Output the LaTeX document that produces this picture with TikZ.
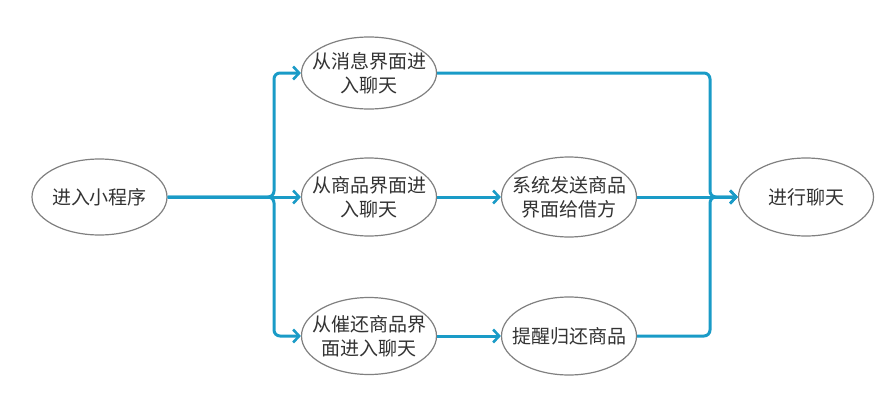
\documentclass[tikz,border=0pt]{standalone}
\usepackage{fontspec}
\setmainfont{Noto Sans CJK SC}
\usetikzlibrary{shapes.geometric,arrows.meta}
\definecolor{flow}{HTML}{1A9BC7}
\definecolor{rim}{HTML}{808080}
\definecolor{ink}{HTML}{333333}
\tikzset{
  oval/.style={ellipse,draw=rim,line width=1.2pt,fill=white,minimum width=135pt,minimum height=76pt,inner xsep=-13pt,inner ysep=0pt,align=center,font=\fontsize{19}{24}\selectfont,text=ink},
  link/.style={draw=flow,line width=3pt,rounded corners=6pt,-{Straight Barb[length=6pt,width=13pt,line width=2.6pt]}}
}
\begin{document}
\begin{tikzpicture}[x=1pt,y=-1pt]
\useasboundingbox (0,0) rectangle (892,407);
\node[oval] (s) at (99.5,197) {进入小程序};
\node[oval,minimum height=72pt] (a) at (369,73) {从消息界面进\\入聊天};
\node[oval,minimum height=78pt] (b) at (369,197) {从商品界面进\\入聊天};
\node[oval,minimum height=77pt] (c) at (369,336) {从催还商品界\\面进入聊天};
\node[oval,minimum height=80pt] (d) at (569,197) {系统发送商品\\界面给借方};
\node[oval,minimum height=78pt] (e) at (569,336) {提醒归还商品};
\node[oval,minimum height=78pt] (f) at (806,197) {进行聊天};
\coordinate (j1) at (274,197);
\coordinate (j2) at (710,197);
\draw[link] (s.east) -- (j1) |- (a.west);
\draw[link] (s.east) -- (j1) |- (c.west);
\draw[link] (s.east) -- (b.west);
\draw[link] (b.east) -- (d.west);
\draw[link] (c.east) -- (e.west);
\draw[link] (a.east) -| (j2) -- (f.west);
\draw[link] (e.east) -| (j2) -- (f.west);
\draw[link] (d.east) -- (f.west);
\end{tikzpicture}
\end{document}
